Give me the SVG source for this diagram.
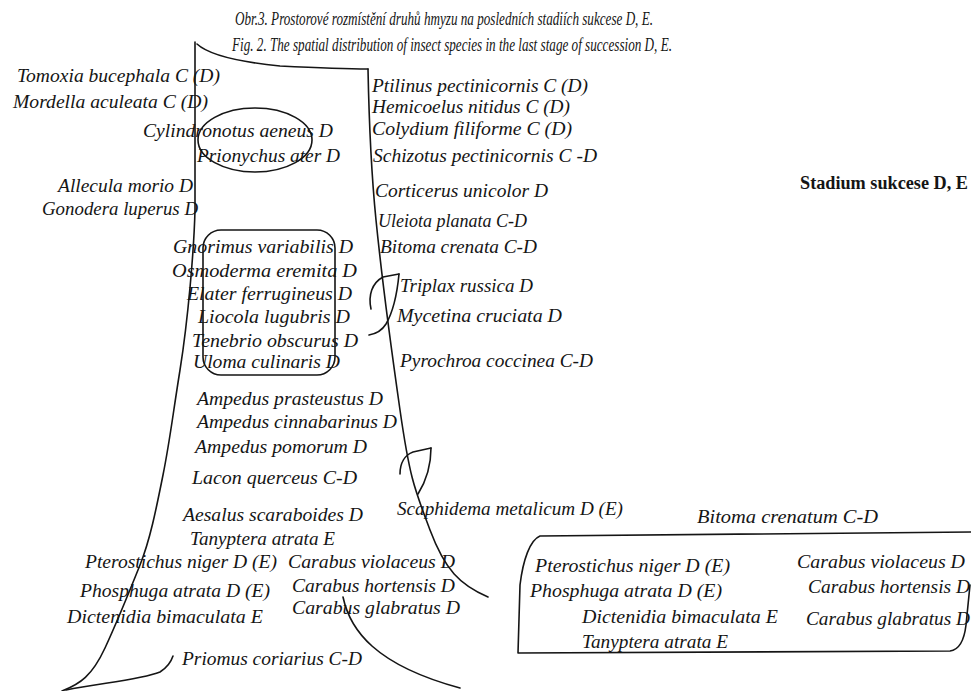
<svg xmlns="http://www.w3.org/2000/svg" width="971" height="691" viewBox="0 0 971 691">
<style>
.t{font-family:"Liberation Serif","Times New Roman",serif;font-style:italic;font-size:18px;fill:#151515}
.c{font-family:"Liberation Serif","Times New Roman",serif;font-style:italic;font-size:18px;fill:#151515}
.h{font-family:"Liberation Serif","Times New Roman",serif;font-weight:bold;font-size:18px;fill:#151515}
.ln{fill:none;stroke:#151515;stroke-width:1.6;stroke-linecap:round;stroke-linejoin:round}
</style>
<rect width="971" height="691" fill="#ffffff"/>
<g id="caption">
<text class="c" x="235" y="25" textLength="418" lengthAdjust="spacingAndGlyphs">Obr.3. Prostorové rozmístění druhů hmyzu na posledních stadiích sukcese D, E.</text>
<text class="c" x="232" y="51" textLength="440" lengthAdjust="spacingAndGlyphs">Fig. 2. The spatial distribution of insect  species in the last stage of succession D, E.</text>
</g>
<g id="title"><text class="h" x="800" y="189" textLength="168" lengthAdjust="spacingAndGlyphs">Stadium sukcese D, E</text></g>
<g id="connectors">
<path class="ln" d="M 195 42 L 195 210 C 194 250, 188 320, 180 370 S 170 440, 163 475 S 150 540, 140 565 S 118 620, 105 648 S 80 684, 62 691"/>
<path class="ln" d="M 197 44 C 210 56, 240 62, 280 66 C 320 68, 350 69, 368 69"/>
<path class="ln" d="M 368 69 C 369 120, 371 170, 376 220 S 390 340, 400 410 S 415 490, 430 530 S 460 585, 488 597"/>
<path class="ln" d="M 66 690 C 100 683, 140 680, 160 672 C 168 667, 171 662, 173 656"/>
<path class="ln" d="M 343 597 C 350 630, 375 665, 460 688"/>
<ellipse class="ln" cx="255" cy="140" rx="57" ry="32"/>
<rect class="ln" x="203" y="230" width="132" height="145" rx="18"/>
<path class="ln" d="M 371 309 C 368 295, 372 283, 383 277 L 399 274"/>
<path class="ln" d="M 399 274 C 397 295, 393 312, 386 324 C 381 332, 375 334, 369 335"/>
<path class="ln" d="M 400 474 C 400 463, 405 455, 413 452 L 431 448"/>
<path class="ln" d="M 431 448 C 431 462, 428 478, 418 494"/>
<path class="ln" d="M 971 532 L 540 536 C 530 540, 523 560, 520 585 L 518 653 L 950 651 C 958 650, 964 642, 966 625 L 970 585"/>
</g>
<g id="n1"><text class="t" x="17" y="82" textLength="203" lengthAdjust="spacingAndGlyphs">Tomoxia bucephala C (D)</text></g>
<g id="n2"><text class="t" x="13" y="108" textLength="195" lengthAdjust="spacingAndGlyphs">Mordella aculeata C (D)</text></g>
<g id="n3"><text class="t" x="143" y="137" textLength="190" lengthAdjust="spacingAndGlyphs">Cylindronotus aeneus D</text></g>
<g id="n4"><text class="t" x="197" y="162" textLength="143" lengthAdjust="spacingAndGlyphs">Prionychus ater D</text></g>
<g id="n5"><text class="t" x="58" y="192" textLength="135" lengthAdjust="spacingAndGlyphs">Allecula morio D</text></g>
<g id="n6"><text class="t" x="42" y="215" textLength="156" lengthAdjust="spacingAndGlyphs">Gonodera luperus D</text></g>
<g id="n7"><text class="t" x="173" y="253" textLength="180" lengthAdjust="spacingAndGlyphs">Gnorimus variabilis D</text></g>
<g id="n8"><text class="t" x="172" y="277" textLength="185" lengthAdjust="spacingAndGlyphs">Osmoderma eremita  D</text></g>
<g id="n9"><text class="t" x="187" y="300" textLength="165" lengthAdjust="spacingAndGlyphs">Elater ferrugineus D</text></g>
<g id="n10"><text class="t" x="198" y="323" textLength="152" lengthAdjust="spacingAndGlyphs">Liocola lugubris D</text></g>
<g id="n11"><text class="t" x="192" y="347" textLength="166" lengthAdjust="spacingAndGlyphs">Tenebrio obscurus D</text></g>
<g id="n12"><text class="t" x="193" y="368" textLength="147" lengthAdjust="spacingAndGlyphs">Uloma culinaris D</text></g>
<g id="n13"><text class="t" x="197" y="405" textLength="186" lengthAdjust="spacingAndGlyphs">Ampedus prasteustus D</text></g>
<g id="n14"><text class="t" x="197" y="428" textLength="200" lengthAdjust="spacingAndGlyphs">Ampedus cinnabarinus D</text></g>
<g id="n15"><text class="t" x="195" y="453" textLength="172" lengthAdjust="spacingAndGlyphs">Ampedus pomorum D</text></g>
<g id="n16"><text class="t" x="192" y="484" textLength="165" lengthAdjust="spacingAndGlyphs">Lacon querceus C-D</text></g>
<g id="n17"><text class="t" x="183" y="521" textLength="180" lengthAdjust="spacingAndGlyphs">Aesalus scaraboides D</text></g>
<g id="n18"><text class="t" x="190" y="545" textLength="145" lengthAdjust="spacingAndGlyphs">Tanyptera atrata E</text></g>
<g id="n19"><text class="t" x="85" y="568" textLength="192" lengthAdjust="spacingAndGlyphs">Pterostichus niger D (E)</text></g>
<g id="n20"><text class="t" x="288" y="568" textLength="167" lengthAdjust="spacingAndGlyphs">Carabus violaceus D</text></g>
<g id="n21"><text class="t" x="80" y="597" textLength="190" lengthAdjust="spacingAndGlyphs">Phosphuga atrata D (E)</text></g>
<g id="n22"><text class="t" x="292" y="592" textLength="163" lengthAdjust="spacingAndGlyphs">Carabus hortensis D</text></g>
<g id="n23"><text class="t" x="292" y="614" textLength="168" lengthAdjust="spacingAndGlyphs">Carabus glabratus D</text></g>
<g id="n24"><text class="t" x="67" y="623" textLength="196" lengthAdjust="spacingAndGlyphs">Dictenidia bimaculata E</text></g>
<g id="n25"><text class="t" x="182" y="665" textLength="180" lengthAdjust="spacingAndGlyphs">Priomus coriarius C-D</text></g>
<g id="n26"><text class="t" x="372" y="92" textLength="216" lengthAdjust="spacingAndGlyphs">Ptilinus pectinicornis C (D)</text></g>
<g id="n27"><text class="t" x="372" y="113" textLength="198" lengthAdjust="spacingAndGlyphs">Hemicoelus nitidus C (D)</text></g>
<g id="n28"><text class="t" x="372" y="135" textLength="200" lengthAdjust="spacingAndGlyphs">Colydium filiforme C (D)</text></g>
<g id="n29"><text class="t" x="373" y="162" textLength="224" lengthAdjust="spacingAndGlyphs">Schizotus pectinicornis C -D</text></g>
<g id="n30"><text class="t" x="375" y="197" textLength="173" lengthAdjust="spacingAndGlyphs">Corticerus unicolor D</text></g>
<g id="n31"><text class="t" x="378" y="227" textLength="149" lengthAdjust="spacingAndGlyphs">Uleiota planata C-D</text></g>
<g id="n32"><text class="t" x="380" y="253" textLength="157" lengthAdjust="spacingAndGlyphs">Bitoma crenata C-D</text></g>
<g id="n33"><text class="t" x="400" y="292" textLength="133" lengthAdjust="spacingAndGlyphs">Triplax russica D</text></g>
<g id="n34"><text class="t" x="397" y="322" textLength="165" lengthAdjust="spacingAndGlyphs">Mycetina cruciata D</text></g>
<g id="n35"><text class="t" x="400" y="367" textLength="193" lengthAdjust="spacingAndGlyphs">Pyrochroa coccinea C-D</text></g>
<g id="n36"><text class="t" x="397" y="515" textLength="226" lengthAdjust="spacingAndGlyphs">Scaphidema metalicum D (E)</text></g>
<g id="n37"><text class="t" x="697" y="523" textLength="181" lengthAdjust="spacingAndGlyphs">Bitoma crenatum  C-D</text></g>
<g id="n38"><text class="t" x="535" y="572" textLength="195" lengthAdjust="spacingAndGlyphs">Pterostichus niger D (E)</text></g>
<g id="n39"><text class="t" x="797" y="568" textLength="168" lengthAdjust="spacingAndGlyphs">Carabus violaceus D</text></g>
<g id="n40"><text class="t" x="530" y="597" textLength="192" lengthAdjust="spacingAndGlyphs">Phosphuga atrata D (E)</text></g>
<g id="n41"><text class="t" x="808" y="593" textLength="162" lengthAdjust="spacingAndGlyphs">Carabus hortensis D</text></g>
<g id="n42"><text class="t" x="582" y="623" textLength="196" lengthAdjust="spacingAndGlyphs">Dictenidia bimaculata E</text></g>
<g id="n43"><text class="t" x="806" y="625" textLength="164" lengthAdjust="spacingAndGlyphs">Carabus glabratus D</text></g>
<g id="n44"><text class="t" x="582" y="648" textLength="146" lengthAdjust="spacingAndGlyphs">Tanyptera atrata E</text></g>
</svg>
